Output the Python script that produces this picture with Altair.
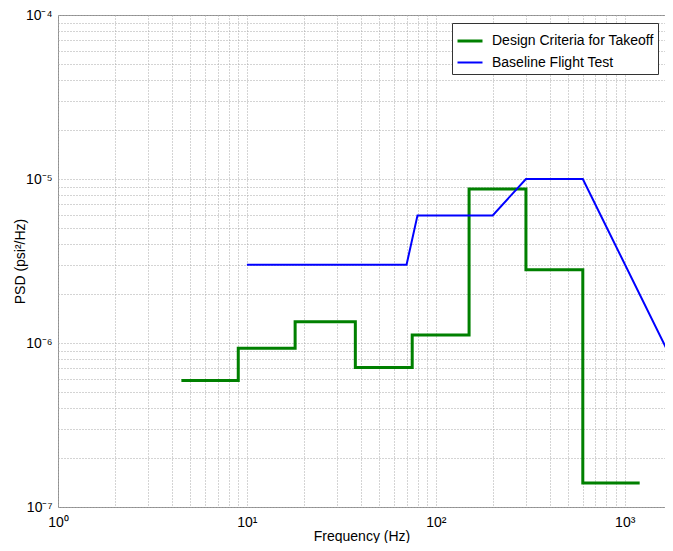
import altair as alt
import pandas as pd

# Design Criteria for Takeoff (step spectrum)
green_f = [4.5, 9, 9, 18, 18, 37.5, 37.5, 75, 75, 150, 150, 300, 300, 600, 600, 1200]
green_p = [5.9e-7, 5.9e-7, 9.3e-7, 9.3e-7, 1.35e-6, 1.35e-6, 7.1e-7, 7.1e-7,
           1.12e-6, 1.12e-6, 8.7e-6, 8.7e-6, 2.8e-6, 2.8e-6, 1.4e-7, 1.4e-7]

# Baseline Flight Test
blue_f = [10, 70, 80, 200, 300, 600, 2000]
blue_p = [3e-6, 3e-6, 6e-6, 6e-6, 1e-5, 1e-5, 6e-7]

series_names = ["Design Criteria for Takeoff", "Baseline Flight Test"]
series_colors = ["#008000", "#0000ff"]

x_grid = [m * 10 ** e for e in range(0, 3) for m in range(1, 10)] + [1000]
y_grid = [m * 10.0 ** e for e in range(-7, -4) for m in range(1, 10)] + [1e-4]

x_tick_labels = {1: "10\u2070", 10: "10\u00b9", 100: "10\u00b2", 1000: "10\u00b3"}
y_tick_labels = {1e-7: "10\u207b\u2077", 1e-6: "10\u207b\u2076",
                 1e-5: "10\u207b\u2075", 1e-4: "10\u207b\u2074"}

rows = []
for i, (f, p) in enumerate(zip(green_f, green_p)):
    rows.append({"f": f, "p": p, "series": series_names[0], "idx": i})
for i, (f, p) in enumerate(zip(blue_f, blue_p)):
    rows.append({"f": f, "p": p, "series": series_names[1], "idx": i})
df = pd.DataFrame(rows)


def label_expr(mapping):
    expr = "''"
    for v, s in mapping.items():
        expr = f"abs(datum.value / {v!r} - 1) < 1e-6 ? '{s}' : ({expr})"
    return expr


font = "Liberation Sans"

chart = alt.Chart(df).mark_line(clip=True, strokeCap="butt", strokeJoin="miter").encode(
    x=alt.X("f:Q",
            scale=alt.Scale(type="log", domain=[1, 1634], nice=False),
            axis=alt.Axis(values=x_grid, labelExpr=label_expr(x_tick_labels),
                          grid=True, ticks=False, domain=False,
                          labelOverlap=False, labelFlush=False, labelBound=False,
                          labelPadding=8, title="Frequency (Hz)",
                          titleY=29, titleBaseline="middle")),
    y=alt.Y("p:Q",
            scale=alt.Scale(type="log", domain=[1e-7, 1e-4], nice=False),
            axis=alt.Axis(values=y_grid, labelExpr=label_expr(y_tick_labels),
                          grid=True, ticks=False, domain=False,
                          labelOverlap=False, labelFlush=False, labelBound=False,
                          labelPadding=6, title="PSD (psi\u00b2/Hz)",
                          titleX=-38, titleBaseline="middle")),
    color=alt.Color("series:N",
                    scale=alt.Scale(domain=series_names, range=series_colors),
                    legend=alt.Legend(title=None, orient="none", legendX=394, legendY=8,
                                      symbolType="stroke", symbolSize=625,
                                      symbolStrokeWidth=3, labelOffset=8,
                                      padding=4, rowPadding=1, labelLimit=0,
                                      strokeColor="#333333", fillColor="white",
                                      labelFontSize=14, labelFont=font,
                                      labelColor="black")),
    strokeWidth=alt.StrokeWidth("series:N",
                                scale=alt.Scale(domain=series_names, range=[3, 2]),
                                legend=None),
    detail="series:N",
    order=alt.Order("idx:Q"),
).properties(
    width=607, height=492,
    background="white",
    autosize=alt.AutoSizeParams(type="none"),
    padding={"left": 50, "top": 7, "right": 0, "bottom": 36},
).configure_view(
    stroke="#8f8f8f", strokeWidth=1
).configure_axis(
    gridColor="#a8a8a8", gridDash=[1, 2], gridWidth=1,
    labelFont=font, labelFontSize=14, labelColor="black",
    titleFont=font, titleFontSize=14, titleFontWeight="normal", titleColor="black",
)

chart.save("out.html", embed_options={"renderer": "svg", "actions": False})
